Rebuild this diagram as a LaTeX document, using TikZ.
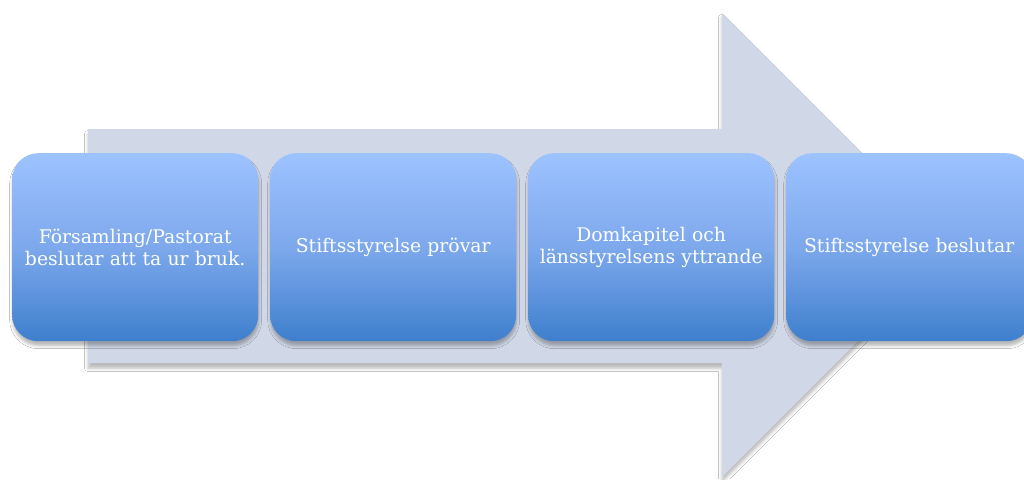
\documentclass[tikz,border=0pt]{standalone}
\usepackage{fontspec}
\setmainfont{DejaVu Serif}
\usetikzlibrary{shadows.blur}
\definecolor{arrowfill}{RGB}{208,215,230}
\definecolor{boxtop}{RGB}{157,195,255}
\definecolor{boxmid}{RGB}{125,168,236}
\definecolor{boxbot}{RGB}{62,127,205}
\tikzset{
  stepbox/.style={rectangle, rounded corners=26pt, minimum width=246pt, minimum height=188pt,
    inner sep=0pt, anchor=north west, top color=boxtop, bottom color=boxbot, middle color=boxmid,
    text=white, text width=240pt, align=center, font=\fontsize{18.8}{22.5}\selectfont,
    blur shadow={shadow xshift=0.5pt, shadow yshift=-4.5pt, shadow blur radius=3pt, shadow opacity=28}},
  bigarrow/.style={fill=arrowfill,
    blur shadow={shadow xshift=0pt, shadow yshift=-5pt, shadow blur radius=3.5pt, shadow opacity=28}}
}
\begin{document}
\begin{tikzpicture}[x=1pt,y=-1pt]
\useasboundingbox (0,0) rectangle (1024,479);
\clip (0,0) rectangle (1024,479);
\fill[white] (0,0) rectangle (1024,479);
\path[bigarrow] (88,129) -- (722,129) -- (722,13) -- (954,245) -- (722,477) -- (722,363) -- (88,363) -- cycle;
\node[stepbox] (s1) at (12,153) {Församling/Pastorat\\beslutar att ta ur bruk.};
\node[stepbox] (s2) at (270,153) {Stiftsstyrelse prövar};
\node[stepbox] (s3) at (528,153) {Domkapitel och\\länsstyrelsens yttrande};
\node[stepbox] (s4) at (786,153) {Stiftsstyrelse beslutar};
\end{tikzpicture}
\end{document}
